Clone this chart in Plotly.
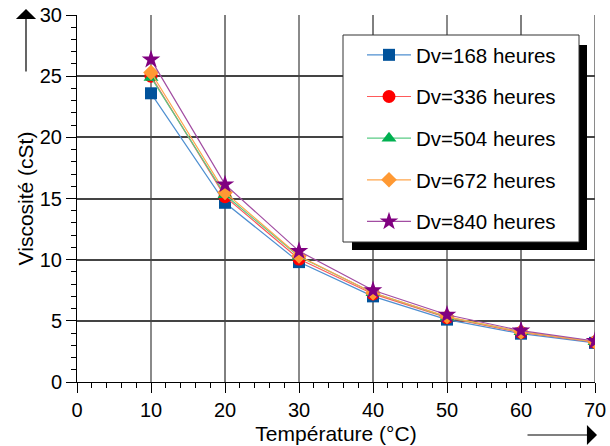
import plotly.graph_objects as go

temperature = [10, 20, 30, 40, 50, 60, 70]
dv_168 = [23.6, 14.65, 9.8, 7.0, 5.1, 3.95, 3.2]
dv_336 = [25.0, 15.15, 10.05, 7.2, 5.25, 4.05, 3.25]
dv_504 = [24.9, 15.3, 10.25, 7.3, 5.3, 4.1, 3.3]
dv_672 = [25.3, 15.5, 10.3, 7.3, 5.35, 4.1, 3.3]
dv_840 = [26.35, 16.15, 10.7, 7.5, 5.5, 4.2, 3.35]
series_names = ["Dv=168 heures", "Dv=336 heures", "Dv=504 heures", "Dv=672 heures", "Dv=840 heures"]
x_ticks = [0, 10, 20, 30, 40, 50, 60, 70]
y_ticks = [0, 5, 10, 15, 20, 25, 30]

series = [dv_168, dv_336, dv_504, dv_672, dv_840]
marker_colors = ["#00529B", "#FF0000", "#00B050", "#FF9933", "#800080"]
line_colors = ["#4F8FD0", "#FF5A5A", "#5ACB85", "#FFA64D", "#A24DA2"]
symbols = ["square", "circle", "triangle-up", "diamond", "star"]
sizes = [12, 13, 13, 12, 14]

FONT = "Liberation Sans, Arial, sans-serif"

fig = go.Figure()
for i, (vals, name) in enumerate(zip(series, series_names)):
    fig.add_trace(go.Scatter(
        x=temperature, y=vals, name=name, mode="lines+markers",
        legendgroup=f"g{i}",
        line=dict(color=line_colors[i], width=1.2),
        marker=dict(symbol=symbols[i], size=sizes[i], color=marker_colors[i],
                    line=dict(width=0)),
    ))

shapes = []
for t in x_ticks[1:]:
    gray = (t // 10) % 2 == 1
    shapes.append(dict(type="line", xref="x", yref="paper", x0=t, x1=t, y0=0, y1=1,
                       layer="below",
                       line=dict(color="#8a8a8a" if gray else "#000000", width=2 if gray else 1)))

# legend box with shadow (paper coords)
W, H = 518.0, 367.0
def px(x): return (x - 77) / W
def py(y): return (382 - y) / H
shapes.append(dict(type="rect", xref="paper", yref="paper", layer="above",
                   x0=px(352), x1=px(587), y0=py(250), y1=py(45),
                   fillcolor="black", line=dict(width=0)))
shapes.append(dict(type="rect", xref="paper", yref="paper", layer="above",
                   x0=px(343), x1=px(579), y0=py(242), y1=py(35),
                   fillcolor="white", line=dict(color="#333333", width=1)))

annotations = [
    dict(xref="paper", yref="paper", x=px(26), y=py(9), ax=0, ay=64, axref="pixel", ayref="pixel",
         showarrow=True, arrowhead=1, arrowsize=2.8, arrowwidth=1.2, arrowcolor="black", text=""),
    dict(xref="paper", yref="paper", x=px(597), y=py(435), ax=-71, ay=0, axref="pixel", ayref="pixel",
         showarrow=True, arrowhead=1, arrowsize=2.8, arrowwidth=1.2, arrowcolor="black", text=""),
]

fig.update_layout(
    width=610, height=446,
    margin=dict(l=77, r=15, t=15, b=64),
    paper_bgcolor="white", plot_bgcolor="white",
    font=dict(family=FONT, size=20, color="black"),
    shapes=shapes, annotations=annotations,
    showlegend=True,
    legend=dict(x=px(362), y=py(35), xanchor="left", yanchor="top",
                bgcolor="rgba(0,0,0,0)", borderwidth=0,
                font=dict(family=FONT, size=20.5, color="black"),
                tracegroupgap=12, itemwidth=44),
    xaxis=dict(range=[0, 70], tickvals=x_ticks, showgrid=False, zeroline=False,
               showline=True, linecolor="black", linewidth=1, automargin=False,
               ticks="outside", ticklen=10, tickcolor="black", tickfont=dict(size=20),
               minor=dict(dtick=2, tick0=0, ticks="outside", ticklen=5, tickcolor="black", showgrid=False),
               title=dict(text="Température (°C)", standoff=6, font=dict(size=21))),
    yaxis=dict(range=[0, 30], tickvals=y_ticks, showgrid=True, gridcolor="#444444", gridwidth=1.5,
               zeroline=False, showline=True, linecolor="black", linewidth=1, automargin=False,
               ticks="outside", ticklen=10, tickcolor="black", tickfont=dict(size=20),
               minor=dict(dtick=1, tick0=0, ticks="outside", ticklen=5, tickcolor="black", showgrid=False),
               title=dict(text="Viscosité (cSt)", standoff=0, font=dict(size=21))),
)

fig.write_html("out.html", config={"displayModeBar": False},
               post_script="document.body.style.margin='0px';document.body.style.padding='0px';")
